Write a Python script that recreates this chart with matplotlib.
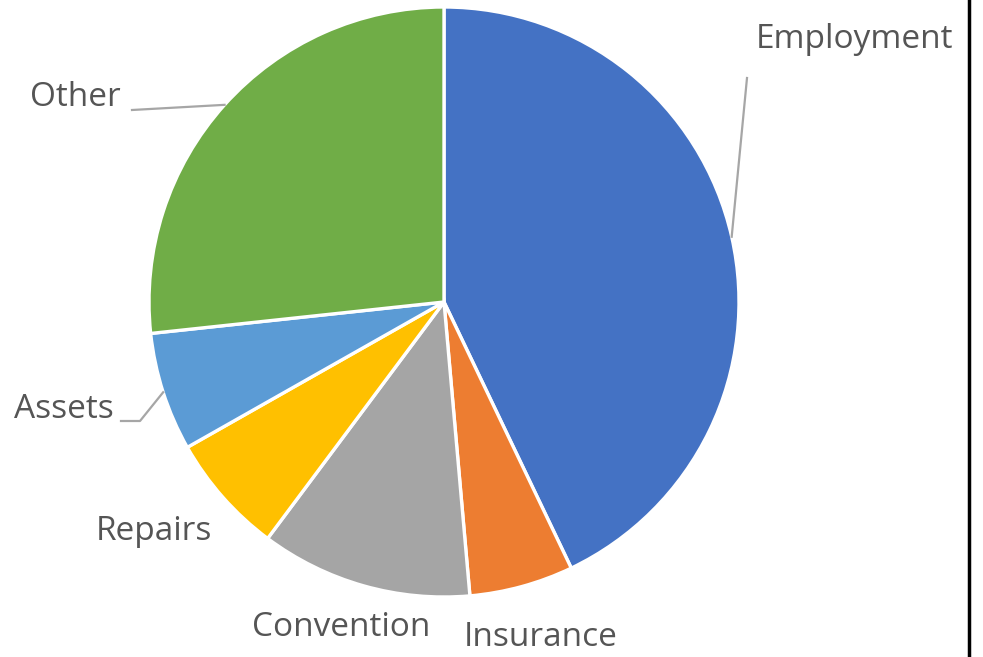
import numpy as np
import matplotlib.pyplot as plt

# slice data (clockwise from 12 o'clock)
labels = ['Employment', 'Insurance', 'Convention', 'Repairs', 'Assets', 'Other']
values = [42.9, 5.7, 11.6, 6.6, 6.5, 26.7]
colors = ['#4472C4', '#ED7D31', '#A5A5A5', '#FFC000', '#5B9BD5', '#70AD47']

W, H = 983, 657
fig = plt.figure(figsize=(W / 100, H / 100), dpi=100)
ax = fig.add_axes([0, 0, 1, 1])

cx, cy, r = 444, H - 302, 295
wedges, _ = ax.pie(values, colors=colors, startangle=90, counterclock=False,
                   center=(cx, cy), radius=r, frame=True,
                   wedgeprops=dict(edgecolor='white', linewidth=2.4))
ax.set_xlim(0, W)
ax.set_ylim(0, H)
ax.axis('off')

# label positions (pixels from top-left) and leader elbow points
label_pos = {
    'Employment': (756, 40),
    'Insurance': (464, 638),
    'Convention': (252, 628),
    'Repairs': (96, 532),
    'Assets': (14, 409),
    'Other': (30, 98),
}
leaders = {
    'Employment': [(747, 78)],
    'Assets': [(140, 421), (121, 421)],
    'Other': [(132, 110)],
}

txt = '#555555'
for w, lab in zip(wedges, labels):
    x, y = label_pos[lab]
    ax.text(x, H - y, lab, ha='left', va='center', fontsize=24, color=txt,
            family='Open Sans')
    if lab in leaders:
        mid = np.radians((w.theta1 + w.theta2) / 2)
        px = cx + r * np.cos(mid)
        py = cy + r * np.sin(mid)
        xs = [px] + [p[0] for p in leaders[lab]]
        ys = [py] + [H - p[1] for p in leaders[lab]]
        ax.plot(xs, ys, color='#A6A6A6', lw=1.6)

# right border line
ax.plot([969, 969], [0, H], color='black', lw=2.5)

fig.savefig('out.png', dpi=100)
